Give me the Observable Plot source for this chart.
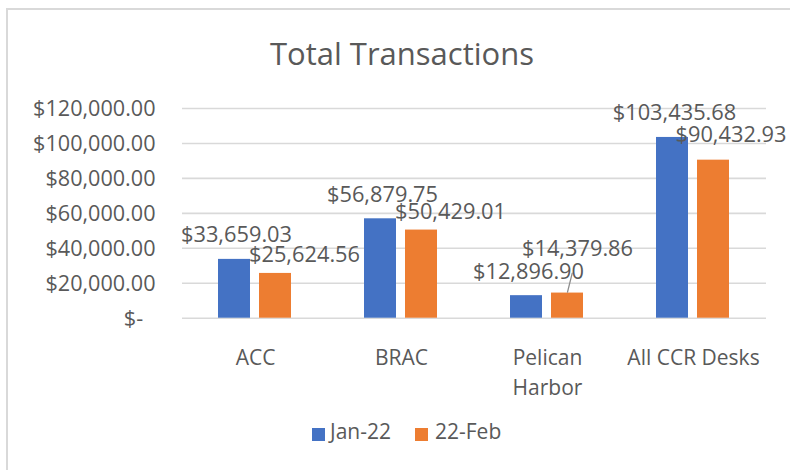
<!DOCTYPE html>
<html><head><meta charset="utf-8">
<script src="https://cdn.jsdelivr.net/npm/d3@7"></script>
<script src="https://cdn.jsdelivr.net/npm/@observablehq/plot@0.6"></script>
<style>
body{margin:0;background:#fff;}
#wrap{position:relative;width:790px;height:470px;overflow:hidden;font-family:"Open Sans",sans-serif;color:#595959;background:#fff;}
#frame{position:absolute;left:6px;top:8px;width:820px;height:500px;border-left:2px solid #d9d9d9;border-top:2px solid #d9d9d9;}
#title{position:absolute;left:0;width:804px;top:38px;text-align:center;font-size:31px;line-height:1;white-space:nowrap;}
#chart{position:absolute;left:0;top:0;}
.sw{position:absolute;width:13px;height:13px;top:428px;}
.lt{position:absolute;top:421px;font-size:21px;line-height:1;white-space:nowrap;}
</style>
</head><body>
<div id="wrap">
  <div id="frame"></div>
  <div id="chart"></div>
  <div id="title">Total Transactions</div>
  <div id="legend"></div>
</div>
<script>
const categories = ["ACC", "BRAC", "Pelican Harbor", "All CCR Desks"];
const series = ["Jan-22", "22-Feb"];
const jan22 = [33659.03, 56879.75, 12896.90, 103435.68];
const feb22 = [25624.56, 50429.01, 14379.86, 90432.93];
const yTicks = [0, 20000, 40000, 60000, 80000, 100000, 120000];
const colors = ["#4472C4", "#ED7D31"];

const rows = categories.flatMap((c, i) => [
  {category: c, series: series[0], value: jan22[i]},
  {category: c, series: series[1], value: feb22[i]}
]);
const money = v => v === 0 ? "$-\u2007" : "$" + d3.format(",.2f")(v);
const catLabel = c => c === "Pelican Harbor" ? "Pelican\nHarbor" : c;
const grey = "#595959";

const janRows = rows.filter(d => d.series === series[0]);
const febRows = rows.filter(d => d.series === series[1]);
const febA = febRows.filter(d => d.category === "ACC" || d.category === "BRAC");
const febP = febRows.filter(d => d.category === "Pelican Harbor");
const febC = febRows.filter(d => d.category === "All CCR Desks");

const leaderShape = {draw(context, l) { context.moveTo(0, 0); context.lineTo(0, -l); }};
const lab = 21.8;

const chart = Plot.plot({
  width: 790,
  height: 400,
  marginLeft: 180,
  marginRight: 23,
  marginTop: 108,
  marginBottom: 82.3,
  style: {fontFamily: "Open Sans, sans-serif", fontSize: "21px", color: grey, background: "transparent", overflow: "visible"},
  fx: {domain: categories, padding: 0, label: null},
  x: {domain: series, paddingInner: 0.214, paddingOuter: 0.854, axis: null},
  y: {domain: [0, 120000], axis: null},
  color: {domain: series, range: colors},
  marks: [
    Plot.ruleY(yTicks, {stroke: "#d9d9d9", strokeWidth: 1.6}),
    Plot.barY(rows, {fx: "category", x: "series", y: "value", fill: "series"}),
    Plot.axisY({ticks: yTicks, tickFormat: money, tickSize: 0, tickPadding: 27, fontSize: 21.6, fill: grey, dy: 1, label: null}),
    Plot.axisFx({anchor: "bottom", tickSize: 0, tickPadding: 25, tickFormat: catLabel, lineHeight: 1.43, fontSize: 21, fill: grey, label: null}),
    Plot.text(janRows, {fx: "category", x: "series", y: "value", text: d => money(d.value), lineAnchor: "bottom", dy: -17, dx: 2, fill: grey, fontSize: lab}),
    Plot.text(febA, {fx: "category", x: "series", y: "value", text: d => money(d.value), lineAnchor: "bottom", dy: -11, dx: 29, fill: grey, fontSize: lab}),
    Plot.text(febP, {fx: "category", x: "series", y: "value", text: d => money(d.value), lineAnchor: "bottom", dy: -37.5, dx: 10, fill: grey, fontSize: lab}),
    Plot.text(febC, {fx: "category", x: "series", y: "value", text: d => money(d.value), lineAnchor: "bottom", dy: -18, dx: 17.5, fill: grey, fontSize: lab}),
    Plot.vector(febP, {fx: "category", x: "series", y: "value", length: 19.6, rotate: 14, anchor: "start", shape: leaderShape, stroke: "#8c8c8c", strokeWidth: 1.3, dy: -1})
  ]
});
document.getElementById("chart").appendChild(chart);

const legend = document.getElementById("legend");
const swLeft = [312, 415];
const txtLeft = [330, 435];
series.forEach((s, i) => {
  const sw = document.createElement("div");
  sw.className = "sw";
  sw.style.left = swLeft[i] + "px";
  sw.style.background = colors[i];
  legend.appendChild(sw);
  const t = document.createElement("div");
  t.className = "lt";
  t.style.left = txtLeft[i] + "px";
  t.textContent = s;
  legend.appendChild(t);
});
</script>
</body></html>
